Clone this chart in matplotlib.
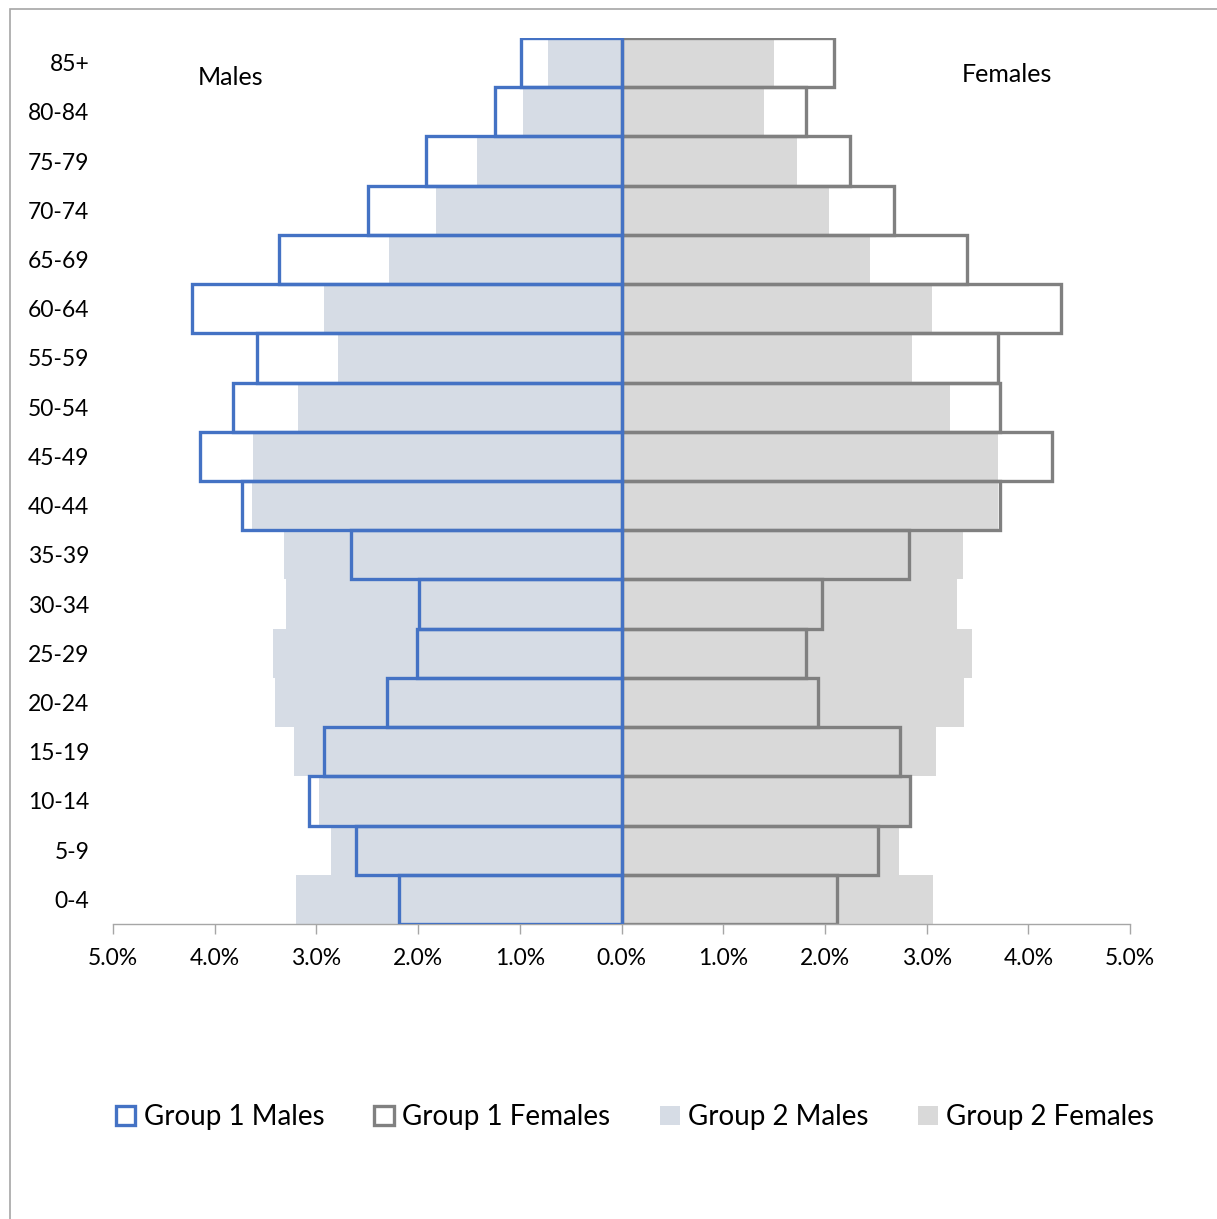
"""Population pyramid: two groups, males vs females."""
import matplotlib
matplotlib.use('Agg')
from matplotlib import pyplot as plt
from matplotlib.patches import Patch, Rectangle

age_groups = ['0-4', '5-9', '10-14', '15-19', '20-24', '25-29', '30-34',
              '35-39', '40-44', '45-49', '50-54', '55-59', '60-64',
              '65-69', '70-74', '75-79', '80-84', '85+']

# percent of population, bottom (0-4) to top (85+)
group1_males = [2.19, 2.61, 3.07, 2.93, 2.31, 2.01, 1.99, 2.66, 3.73,
                4.14, 3.82, 3.58, 4.22, 3.37, 2.49, 1.92, 1.24, 0.99]
group1_females = [2.12, 2.52, 2.84, 2.74, 1.93, 1.81, 1.97, 2.83, 3.72,
                  4.23, 3.72, 3.70, 4.32, 3.40, 2.68, 2.25, 1.81, 2.09]
group2_males = [3.20, 2.86, 2.97, 3.22, 3.41, 3.43, 3.30, 3.32, 3.63,
                3.62, 3.18, 2.79, 2.93, 2.29, 1.82, 1.42, 0.97, 0.72]
group2_females = [3.06, 2.73, 2.84, 3.09, 3.37, 3.45, 3.30, 3.36, 3.70,
                  3.70, 3.23, 2.86, 3.05, 2.44, 2.04, 1.73, 1.40, 1.50]

x_ticks = [-5, -4, -3, -2, -1, 0, 1, 2, 3, 4, 5]

blue = '#4472C4'
gray = '#808080'
male_fill = '#D6DCE5'
female_fill = '#D9D9D9'

plt.rcParams['font.family'] = ['Lato', 'DejaVu Sans']

W, H = 1217, 1219
fig = plt.figure(figsize=(W / 100, H / 100), dpi=100)
ax = fig.add_axes([113 / W, 1 - 924 / H, (1130 - 113) / W, (924 - 38) / H])

# chart frame (cropped at right and bottom like the original)
fig.patches.append(Rectangle((10 / W, -0.1), 1.2, 1 - 9 / H + 0.1,
                             transform=fig.transFigure, fill=False,
                             edgecolor='#A6A6A6', linewidth=1.2))

y = range(len(age_groups))
ax.barh(y, [-v for v in group2_males], height=1.0, color=male_fill, zorder=1)
ax.barh(y, group2_females, height=1.0, color=female_fill, zorder=1)
ax.barh(y, [-v for v in group1_males], height=1.0, facecolor='none',
        edgecolor=blue, linewidth=2.4, zorder=3)
ax.barh(y, group1_females, height=1.0, facecolor='none',
        edgecolor=gray, linewidth=2.4, zorder=2)

ax.set_xlim(-5, 5)
ax.set_ylim(-0.5, len(age_groups) - 0.5)
ax.set_xticks(x_ticks)
ax.set_xticklabels([f'{abs(t):.1f}%' for t in x_ticks], fontsize=16.5)
ax.set_yticks(list(y))
ax.set_yticklabels(age_groups, fontsize=16.5)
ax.tick_params(axis='y', length=0, pad=17)
ax.tick_params(axis='x', direction='out', length=7, width=1,
               color='#A6A6A6', pad=10)
for side in ['top', 'right', 'left']:
    ax.spines[side].set_visible(False)
ax.spines['bottom'].set_color('#A6A6A6')
ax.spines['bottom'].set_linewidth(1)

ax.text(-3.84, 16.7, 'Males', fontsize=18, ha='center', va='center')
ax.text(3.79, 16.76, 'Females', fontsize=18, ha='center', va='center')

handles = [
    Patch(facecolor='white', edgecolor=blue, linewidth=2.4,
          label='Group 1 Males'),
    Patch(facecolor='white', edgecolor=gray, linewidth=2.4,
          label='Group 1 Females'),
    Patch(facecolor=male_fill, edgecolor='none', label='Group 2 Males'),
    Patch(facecolor=female_fill, edgecolor='none', label='Group 2 Females'),
]
fig.legend(handles=handles, loc='center', ncol=4,
           bbox_to_anchor=(635 / W, 1 - 1117 / H), frameon=False,
           fontsize=20, handlelength=0.7, handleheight=0.7,
           handletextpad=0.3, columnspacing=1.8)

fig.savefig('out.png', dpi=100)
